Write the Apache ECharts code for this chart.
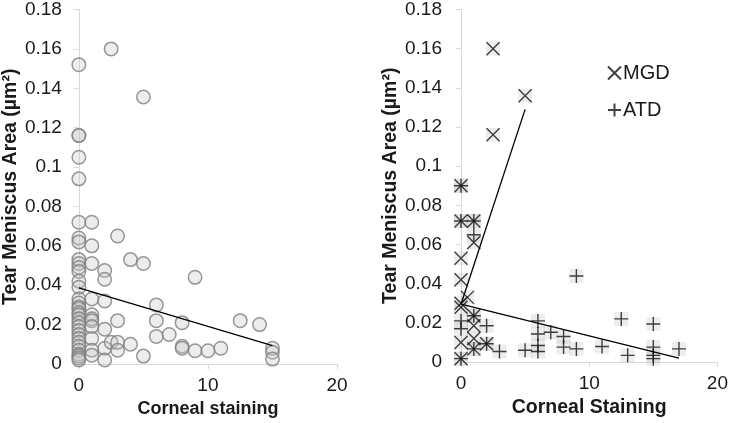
<!DOCTYPE html>
<html>
<head>
<meta charset="utf-8">
<script src="https://cdn.jsdelivr.net/npm/echarts@6/dist/echarts.min.js"></script>
<style>
  html, body { margin: 0; padding: 0; background: #fff; }
  #chart { width: 731px; height: 423px; }
</style>
</head>
<body>
<div id="chart"></div>
<script>
// left panel: all eyes, corneal staining vs tear meniscus area
const leftPoints = [
  [0, 0.152], [0, 0.116], [0, 0.116], [0, 0.105], [0, 0.094],
  [0, 0.072], [0, 0.064], [0, 0.062], [0, 0.053], [0, 0.051], [0, 0.049], [0, 0.047],
  [0, 0.042], [0, 0.039], [0, 0.033], [0, 0.031], [0, 0.029], [0, 0.028], [0, 0.026],
  [0, 0.025], [0, 0.023], [0, 0.021], [0, 0.019], [0, 0.017], [0, 0.015], [0, 0.013],
  [0, 0.011], [0, 0.009], [0, 0.007], [0, 0.005], [0, 0.004], [0, 0.003], [0, 0.002],
  [1, 0.072], [1, 0.060], [1, 0.051], [1, 0.033], [1, 0.025], [1, 0.023], [1, 0.022],
  [1, 0.019], [1, 0.013], [1, 0.007], [1, 0.0045],
  [2, 0.0475], [2, 0.043], [2, 0.032], [2, 0.0177], [2, 0.008], [2, 0.002],
  [2.5, 0.160], [2.5, 0.011],
  [3, 0.065], [3, 0.022], [3, 0.011], [3, 0.007],
  [4, 0.053], [4, 0.010],
  [5, 0.1356], [5, 0.051], [5, 0.004],
  [6, 0.030], [6, 0.022], [6, 0.014],
  [7, 0.015],
  [8, 0.021], [8, 0.009], [8, 0.008],
  [9, 0.044], [9, 0.0067],
  [10, 0.0067],
  [11, 0.008],
  [12.5, 0.022],
  [14, 0.020],
  [15, 0.008], [15, 0.006], [15, 0.0025]
];
const leftTrend = [[0, 0.0386], [15, 0.0093]];

// right panel: MGD and ATD groups
const mgdPoints = [
  [2.5, 0.160], [5, 0.136], [2.5, 0.116], [0, 0.090], [0, 0.072], [1, 0.072],
  [1, 0.061], [0, 0.053], [0, 0.042], [0.5, 0.033], [0, 0.030], [0, 0.028],
  [1, 0.0236], [1, 0.0185], [0, 0.010], [1, 0.012], [1, 0.0067], [2, 0.0093], [0, 0.0017]
];
const atdPoints = [
  [0, 0.090], [0, 0.072], [1, 0.072], [1, 0.065], [0, 0.021], [0, 0.017], [0, 0.0017],
  [1, 0.0236], [1, 0.0067], [2, 0.0185], [2, 0.0093], [3, 0.0054], [5, 0.006],
  [6, 0.021], [6, 0.0143], [6, 0.0084], [6, 0.0054], [7, 0.0152], [8, 0.013],
  [8, 0.0076], [9, 0.0439], [9, 0.0067], [11, 0.0079], [12.5, 0.022], [13, 0.0034],
  [15, 0.0194], [15, 0.0076], [15, 0.0034], [15, 0.0017], [17, 0.0067]
];
const mgdTrend = [[0, 0.0295], [5, 0.129]];
const atdTrend = [[0, 0.0295], [17, 0.002]];

const yMax = 0.18, yStep = 0.02;
const xMax = 20, xStep = 10;

const font = 'Arial, "Liberation Sans", sans-serif';
const crossX = 'path://M0,0L10,10M10,0L0,10';
const crossPlus = 'path://M5,0L5,10M0,5L10,5';

function xAxisFor(idx, name, titleSize) {
  return {
    gridIndex: idx, type: 'value', min: 0, max: xMax, interval: xStep,
    name: name, nameLocation: 'middle', nameGap: 36,
    nameTextStyle: { fontFamily: font, fontSize: titleSize, fontWeight: 'bold', color: '#1a1a1a' },
    axisLine: { lineStyle: { color: '#d9d9d9', width: 1 } },
    axisTick: { show: true, length: 5, lineStyle: { color: '#d9d9d9' } },
    axisLabel: { fontFamily: font, fontSize: 19, color: '#1a1a1a', margin: 12 },
    splitLine: { show: false }
  };
}
function yAxisFor(idx, margin) {
  return {
    gridIndex: idx, type: 'value', min: 0, max: yMax, interval: yStep,
    name: 'Tear Meniscus Area (µm²)', nameLocation: 'middle', nameRotate: 90, nameGap: 57,
    nameTextStyle: { fontFamily: font, fontSize: 19.5, fontWeight: 'bold', color: '#1a1a1a' },
    axisLine: { show: true, lineStyle: { color: '#d9d9d9', width: 1 } },
    axisTick: { show: true, length: 5, lineStyle: { color: '#d9d9d9' } },
    axisLabel: {
      fontFamily: font, fontSize: 19, color: '#1a1a1a', margin: margin,
      formatter: v => String(+v.toFixed(2))
    },
    splitLine: { show: false }
  };
}

const chart = echarts.init(document.getElementById('chart'));
chart.setOption({
  animation: false,
  backgroundColor: '#fff',
  grid: [
    { left: 76, top: 8, width: 261, height: 356 },
    { left: 461, top: 8, width: 260, height: 355 }
  ],
  xAxis: [xAxisFor(0, 'Corneal staining', 18), xAxisFor(1, 'Corneal Staining', 19.5)],
  yAxis: [yAxisFor(0, 17), yAxisFor(1, 19)],
  legend: {
    data: ['MGD', 'ATD'],
    orient: 'vertical', left: 602, top: 58, itemGap: 17,
    itemWidth: 13, itemHeight: 13,
    textStyle: { fontFamily: font, fontSize: 20, color: '#1a1a1a', padding: [0, 0, 0, -3] }
  },
  series: [
    {
      type: 'scatter', xAxisIndex: 0, yAxisIndex: 0, data: leftPoints,
      symbol: 'circle', symbolSize: 13.5,
      itemStyle: { color: 'rgba(200,200,200,0.4)', borderColor: '#808080', borderWidth: 1.5 }
    },
    {
      type: 'line', xAxisIndex: 0, yAxisIndex: 0, data: leftTrend,
      symbol: 'none', lineStyle: { color: '#000', width: 1.3 }, z: 4
    },
    // grey squares behind the right panel markers
    {
      name: 'mgdBg', type: 'scatter', xAxisIndex: 1, yAxisIndex: 1, data: mgdPoints,
      symbol: 'rect', symbolSize: 14, z: 1,
      itemStyle: { color: 'rgba(190,190,190,0.35)' }
    },
    {
      name: 'atdBg', type: 'scatter', xAxisIndex: 1, yAxisIndex: 1, data: atdPoints,
      symbol: 'rect', symbolSize: 14, z: 1,
      itemStyle: { color: 'rgba(190,190,190,0.35)' }
    },
    {
      name: 'MGD', type: 'scatter', xAxisIndex: 1, yAxisIndex: 1, data: mgdPoints,
      symbol: crossX, symbolSize: 13, z: 3,
      itemStyle: { color: 'transparent', borderColor: '#111', borderWidth: 1.4 }
    },
    {
      name: 'ATD', type: 'scatter', xAxisIndex: 1, yAxisIndex: 1, data: atdPoints,
      symbol: crossPlus, symbolSize: 14, z: 3,
      itemStyle: { color: 'transparent', borderColor: '#111', borderWidth: 1.4 }
    },
    {
      type: 'line', xAxisIndex: 1, yAxisIndex: 1, data: mgdTrend,
      symbol: 'none', lineStyle: { color: '#000', width: 1.3 }, z: 4
    },
    {
      type: 'line', xAxisIndex: 1, yAxisIndex: 1, data: atdTrend,
      symbol: 'none', lineStyle: { color: '#000', width: 1.3 }, z: 4
    }
  ]
});
</script>
</body>
</html>
